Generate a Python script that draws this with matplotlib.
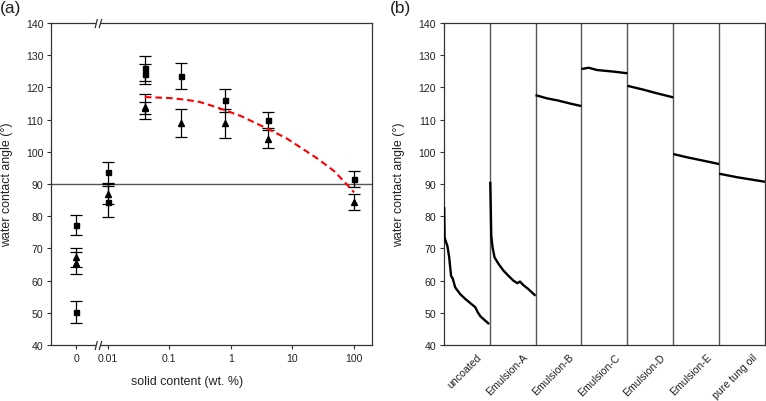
import matplotlib
matplotlib.use('Agg')
import matplotlib.pyplot as plt
import numpy as np
from matplotlib.path import Path
from matplotlib import transforms as mtrans
from matplotlib.ticker import NullLocator

plt.rcParams['font.family'] = ['Liberation Sans', 'DejaVu Sans']

# ---------------- panel (a) data ----------------
sq_x = [0, 0, 0.01, 0.01, 0.04, 0.04, 0.155, 0.81, 4.0, 100]
sq_y = [77.3, 50.2, 93.6, 84.5, 126.0, 124.2, 123.6, 116.0, 110.0, 91.6]
sq_err = [3.1, 3.5, 3.3, 4.8, 3.9, 3.1, 4.1, 3.5, 2.5, 2.5]

tr_x = [0, 0, 0.01, 0.04, 0.04, 0.155, 0.81, 4.0, 100]
tr_y = [67.2, 65.5, 86.9, 114.0, 113.6, 108.9, 108.8, 104.0, 84.5]
tr_err = [3.0, 3.3, 3.2, 3.9, 1.8, 4.4, 4.4, 2.8, 2.5]

fit_x = [0.04, 0.1, 0.18, 0.31, 0.55, 0.81, 1.5, 3.8, 8, 13.4, 25, 47, 78, 100]
fit_y = [117.0, 116.7, 116.2, 115.5, 114.0, 112.9, 111.0, 107.3, 104.2, 101.4, 98.0, 94.1, 89.7, 87.4]

xtick_vals = [0, 0.01, 0.1, 1, 10, 100]
xtick_labels = ['0', '0.01', '0.1', '1', '10', '100']

# ---------------- panel (b) data ----------------
samples = ['uncoated', 'Emulsion-A', 'Emulsion-B', 'Emulsion-C',
           'Emulsion-D', 'Emulsion-E', 'pure tung oil']

uncoated_t = [0.01, 0.02, 0.04, 0.08, 0.12, 0.16, 0.20, 0.25, 0.36, 0.47, 0.58, 0.69, 0.74, 0.80, 0.91, 0.99]
uncoated_v = [82.8, 73.4, 72.4, 70.8, 67.2, 61.5, 60.5, 57.9, 55.8, 54.3, 53.0, 51.7, 50.2, 48.9, 47.5, 46.5]

emA_t = [0.014, 0.022, 0.036, 0.065, 0.108, 0.194, 0.302, 0.41, 0.518, 0.604, 0.662, 0.734, 0.842, 1.0]
emA_v = [90.7, 85.3, 74.0, 70.3, 67.2, 65.2, 63.1, 61.5, 60.0, 59.2, 59.7, 58.6, 57.4, 55.3]

emB_t = [0.0, 0.25, 0.5, 0.75, 1.0]
emB_v = [117.6, 116.6, 115.9, 115.0, 114.2]

emC_t = [0.0, 0.16, 0.34, 0.7, 1.0]
emC_v = [125.7, 126.1, 125.4, 124.9, 124.4]

emD_t = [0.0, 0.35, 0.61, 1.0]
emD_v = [120.5, 119.3, 118.3, 116.9]

emE_t = [0.0, 0.3, 0.67, 1.0]
emE_v = [99.3, 98.3, 97.2, 96.2]

tung_t = [0.0, 0.39, 1.0]
tung_v = [93.2, 92.1, 90.7]

yticks = list(range(40, 141, 10))

# ---------------- figure ----------------
W, H = 766, 402
fig = plt.figure(figsize=(W / 100, H / 100), dpi=100)
axA = fig.add_axes([51 / W, 1 - 346 / H, 321 / W, 322 / H])
axB = fig.add_axes([443.7 / W, 1 - 346 / H, 321.3 / W, 322 / H])

spine_c = '#333333'
txt_c = '#222222'

ZERO_POS = 10 ** -2.515   # plotting position of the "0" category
XBREAK = 10 ** -2.152     # axis-break position


def pos(x):
    x = np.asarray(x, dtype=float)
    return np.where(x == 0, ZERO_POS, x)


axA.set_xscale('log')
axA.axhline(90, color='#555555', lw=1.0, zorder=1)
ekw = dict(color='black', ecolor='black', elinewidth=0.9, capsize=4.6,
           capthick=0.9, ls='none', zorder=3)
axA.errorbar(pos(sq_x), sq_y, yerr=sq_err, fmt='s', ms=3.6, **ekw)
axA.errorbar(pos(tr_x), tr_y, yerr=tr_err, fmt='^', ms=4.4, **ekw)
axA.plot(fit_x, fit_y, color='#ff0000', lw=1.5, ls=(0, (3.2, 1.9)), zorder=4)

axA.set_xlim(10 ** -2.921, 10 ** 2.292)
axA.set_ylim(40, 140)
axA.set_xticks(pos(xtick_vals))
axA.set_xticklabels(xtick_labels)
axA.xaxis.set_minor_locator(NullLocator())
axA.set_yticks(yticks)

# axis break marks
brk = Path([(-3.4, -4.5), (-1.1, 4.5), (0.6, -4.5), (3.3, 4.5)],
           [Path.MOVETO, Path.LINETO, Path.MOVETO, Path.LINETO])
btr = mtrans.blended_transform_factory(axA.transData, axA.transAxes)
axA.plot([XBREAK, XBREAK], [0, 1], transform=btr, ls='none', marker='_',
         ms=3.0, mew=3, color='white', clip_on=False, zorder=5)
axA.plot([XBREAK, XBREAK], [0, 1], transform=btr, ls='none', marker=brk,
         ms=6.5, mew=0.9, mec=spine_c, mfc='none', clip_on=False, zorder=6)

axA.set_xlabel('solid content (wt. %)', fontsize=8.9, color=txt_c)
axA.xaxis.set_label_coords(0.4227, -0.093)
axA.set_ylabel('water contact angle (°)', fontsize=8.9, color=txt_c)
axA.yaxis.set_label_coords(-0.118, 0.5)

# ---------------- panel (b) ----------------
series_t = [uncoated_t, emA_t, emB_t, emC_t, emD_t, emE_t, tung_t]
series_v = [uncoated_v, emA_v, emB_v, emC_v, emD_v, emE_v, tung_v]
for i, (t, v) in enumerate(zip(series_t, series_v)):
    axB.plot(i + np.asarray(t), v, color='black', lw=1.7,
             solid_joinstyle='round', solid_capstyle='butt', zorder=3)
for i in range(1, len(samples)):
    axB.axvline(i, color='#555555', lw=1.0, zorder=2)
axB.set_xlim(0, len(samples))
axB.set_ylim(40, 140)
axB.set_yticks(yticks)
axB.set_xticks([])
ltr = mtrans.blended_transform_factory(axB.transData, axB.transAxes)
for i, lab in enumerate(samples):
    axB.text(i + 0.72, -0.02, lab, transform=ltr, rotation=45, ha='right',
             va='top', rotation_mode='anchor', fontsize=7.6, color=txt_c)
axB.set_ylabel('water contact angle (°)', fontsize=8.9, color=txt_c)
axB.yaxis.set_label_coords(-0.12, 0.5)

for ax in (axA, axB):
    for s in ax.spines.values():
        s.set_color(spine_c)
        s.set_linewidth(0.9)
    ax.tick_params(direction='out', length=3, width=0.8, pad=2.5,
                   labelsize=7.6, colors=spine_c, labelcolor=txt_c)

fig.text(0.0, 1 - 1 / H, '(a)', fontsize=12.5, va='top', ha='left', color=txt_c)
fig.text(390 / W, 1 - 1 / H, '(b)', fontsize=12.5, va='top', ha='left', color=txt_c)

fig.savefig('out.png', dpi=100)
